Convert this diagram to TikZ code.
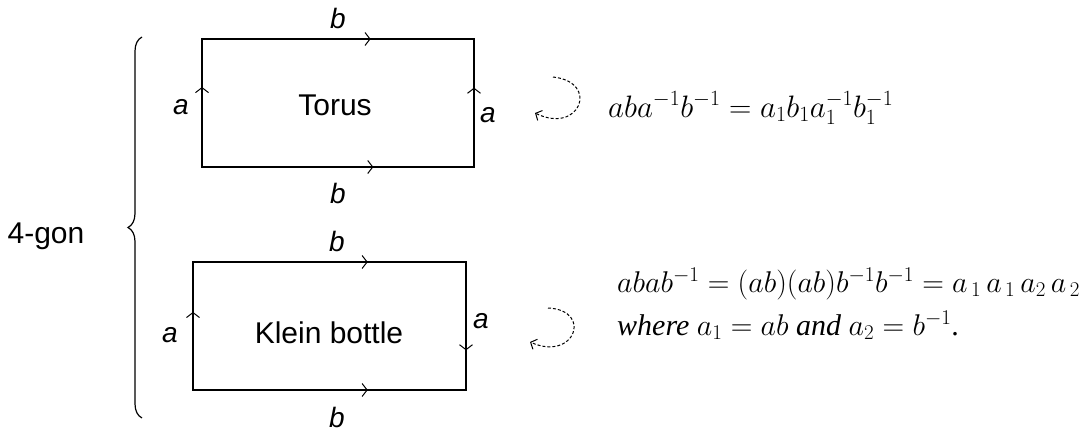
\RequirePackage{fix-cm}
\documentclass[tikz,border=0pt]{standalone}
\usepackage[no-math]{fontspec}
\setmainfont{Liberation Sans}
\newfontfamily\eqserif{Liberation Serif}
\usetikzlibrary{arrows.meta,decorations.markings,decorations.pathreplacing}

\tikzset{
  edgeline/.style={
    line width=1.2pt,
    line cap=rect,
    postaction={decorate},
    decoration={markings,
      mark=at position #1 with {\arrow{Straight Barb[length=5pt,width=13pt,line width=1pt]}}}
  },
  edgeline/.default=0.62,
  sidelbl/.style={font=\fontsize{28}{32}\selectfont\itshape, inner sep=0pt},
  gontxt/.style={font=\fontsize{30}{36}\selectfont, inner sep=0pt},
  eqtxt/.style={font=\fontsize{30}{36}\selectfont\eqserif, anchor=base west, inner sep=0pt},
  turn/.style={
    line width=1pt,
    dash pattern=on 3pt off 2pt,
    -{Straight Barb[length=5pt,width=11pt]}
  }
}

\begin{document}
\begin{tikzpicture}[x=1pt, y=-1pt]
\useasboundingbox (0,0) rectangle (1090,439);

% 4-gon and brace
\node[gontxt] (gon) at (46,236) {4-gon};
\draw[
    line width=1.2pt,
    decorate,
    decoration={brace, amplitude=14pt}
] (142,418) -- (142,37);

% Torus
\coordinate (tbl) at (202,167);
\coordinate (tbr) at (474,167);
\coordinate (ttr) at (474,39);
\coordinate (ttl) at (202,39);
\draw[edgeline] (ttl) -- (ttr);
\draw[edgeline=0.63] (tbl) -- (tbr);
\draw[edgeline=0.625] (tbl) -- (ttl);
\draw[edgeline] (tbr) -- (ttr);
\node[gontxt] (torus) at (335,105) {Torus};
\node[sidelbl] (tb1) at (338,18) {b};
\node[sidelbl] (tb2) at (338,193) {b};
\node[sidelbl] (ta1) at (181,107) {a};
\node[sidelbl] (ta2) at (488,115) {a};

% Klein bottle
\coordinate (kbl) at (193,390);
\coordinate (kbr) at (466,390);
\coordinate (ktr) at (466,262);
\coordinate (ktl) at (193,262);
\draw[edgeline=0.64] (ktl) -- (ktr);
\draw[edgeline=0.64] (kbl) -- (kbr);
\draw[edgeline=0.61] (kbl) -- (ktl);
\draw[edgeline=0.69] (ktr) -- (kbr);
\node[gontxt] (klein) at (329,333) {Klein bottle};
\node[sidelbl] (kb1) at (337,241) {b};
\node[sidelbl] (kb2) at (337,417) {b};
\node[sidelbl] (ka1) at (170,335) {a};
\node[sidelbl] (ka2) at (481,321) {a};

% Umlaufsinn
\coordinate (tturn0) at (553,77);
\coordinate (tturn1) at (535,113);
\draw[turn] (tturn0) .. controls (600,82) and (580,135) .. (tturn1);
\coordinate (kturn0) at (548,308);
\coordinate (kturn1) at (530,342);
\draw[turn] (kturn0) .. controls (593,310) and (575,362) .. (kturn1);

% Wörter
\node[eqtxt, font=\fontsize{31}{36}\selectfont\eqserif] (toreq) at (608,117)
    {$aba^{-1}b^{-1} = a_1b_1a_1^{-1}b_1^{-1}$};
\node[eqtxt] (kleq) at (617,292)
    {$abab^{-1} = (ab)(ab)b^{-1}b^{-1} = a_{\,1}\,a_{\,1}\,a_2\,a_{\,2}$};
\node[eqtxt] (klwhere) at (617,335) {\textit{where} $a_1 = ab$ \textit{and} $a_2 = b^{-1}$.};

\end{tikzpicture}
\end{document}
